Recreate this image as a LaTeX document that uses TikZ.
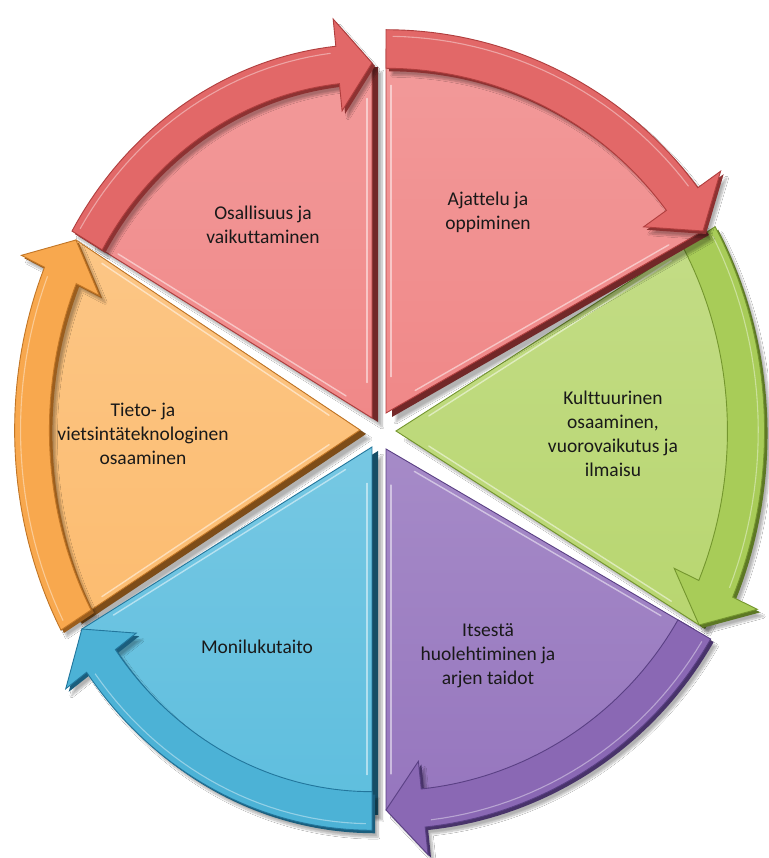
\documentclass[tikz,border=0pt]{standalone}
\usepackage{fontspec}
\setmainfont{Carlito}[RawFeature={-liga;-clig;-calt}]
\usetikzlibrary{shadows.blur}
\definecolor{redF}{RGB}{240,136,136}
\definecolor{redB}{RGB}{226,104,104}
\definecolor{redE}{RGB}{176,62,62}
\definecolor{grnF}{RGB}{184,214,112}
\definecolor{grnB}{RGB}{168,204,88}
\definecolor{grnE}{RGB}{116,150,46}
\definecolor{purF}{RGB}{150,118,190}
\definecolor{purB}{RGB}{138,104,180}
\definecolor{purE}{RGB}{90,64,132}
\definecolor{bluF}{RGB}{94,190,222}
\definecolor{bluB}{RGB}{76,178,214}
\definecolor{bluE}{RGB}{34,118,156}
\definecolor{orgF}{RGB}{252,188,112}
\definecolor{orgB}{RGB}{248,168,78}
\definecolor{orgE}{RGB}{194,118,38}
\tikzset{
  lbl/.style={align=center, font=\fontsize{19.5}{24}\selectfont, text=black!90, inner sep=0pt},
  hilite/.style={white, opacity=0.5, line width=1.4pt, line cap=round},
}
% #1,#2 apex; #3,#4 radii; #5 start angle; #6 face; #7 band; #8 edge
\newcommand{\segm}[8]{%
\begin{scope}[shift={(#1,#2)},x=#3pt,y=#4pt]
\pgfmathsetmacro\segE{#5-60}
\pgfmathsetmacro\segB{#5-54}
\pgfmathsetmacro\segNs{#5-90}
\pgfmathsetmacro\segNe{#5+30}
% extrusion of body
\fill[#8!65!black, shift={(6pt,-4pt)},
  blur shadow={shadow xshift=4pt, shadow yshift=-5pt, shadow blur steps=8, shadow opacity=30}]
  (0,0) -- plot[domain=#5:\segE,samples=40] (\x:1) -- cycle;
% body face
\path[top color=#6!85!white, bottom color=#6, draw=#8, line width=0.9pt, line join=miter]
  (0,0) -- plot[domain=#5:\segE,samples=40] (\x:1) -- cycle;
\draw[hilite, shift={(\segNs:5pt)}] (#5:0.1) -- (#5:0.9);
\draw[hilite, shift={(\segNe:5pt)}] (\segE:0.1) -- (\segE:0.9);
% extrusion of band
\fill[#8!80!black, shift={(3pt,-3pt)},
  blur shadow={shadow xshift=3pt, shadow yshift=-4pt, shadow blur steps=8, shadow opacity=30}]
  (#5:1.053) -- plot[domain=#5:\segB,samples=40] (\x:1.053) -- (\segB:1.13) -- (\segE:1)
  -- (\segB:0.87) -- (\segB:0.947) -- plot[domain=\segB:#5,samples=40] (\x:0.947) -- cycle;
% band face
\path[fill=#7, draw=#8, line width=0.9pt, line join=miter]
  (#5:1.053) -- plot[domain=#5:\segB,samples=40] (\x:1.053) -- (\segB:1.13) -- (\segE:1)
  -- (\segB:0.87) -- (\segB:0.947) -- plot[domain=\segB:#5,samples=40] (\x:0.947) -- cycle;
\draw[white, opacity=0.4, line width=1.1pt]
  plot[domain=#5-1:\segB+1,samples=30] (\x:1.035);
\end{scope}}
\begin{document}
\begin{tikzpicture}[x=1pt,y=1pt]
\useasboundingbox[fill=white] (0,0) rectangle (768,858);
% W6 top-left red
\segm{372}{440}{329}{355}{150}{redF}{redB}{redE}
% W5 orange
\segm{360}{428}{328}{380}{210}{orgF}{orgB}{orgE}
% W4 blue
\segm{372}{411}{335}{364}{270}{bluF}{bluB}{bluE}
% W3 purple
\segm{386}{409}{356}{361}{330}{purF}{purB}{purE}
% W2 green
\segm{396}{427}{350}{388}{30}{grnF}{grnB}{grnE}
% W1 top-right red
\segm{386}{445}{366}{364}{90}{redF}{redB}{redE}
\node[lbl] (t6) at (263,633) {Osallisuus ja\\vaikuttaminen};
\node[lbl] (t1) at (488,646) {Ajattelu ja\\oppiminen};
\node[lbl] (t2) at (613,424) {Kulttuurinen\\osaaminen,\\vuorovaikutus ja\\ilmaisu};
\node[lbl] (t3) at (488,202) {Itsestä\\huolehtiminen ja\\arjen taidot};
\node[lbl] (t4) at (257,211) {Monilukutaito};
\node[lbl] (t5) at (143,424) {Tieto- ja\\vietsintäteknologinen\\osaaminen};
\end{tikzpicture}
\end{document}
